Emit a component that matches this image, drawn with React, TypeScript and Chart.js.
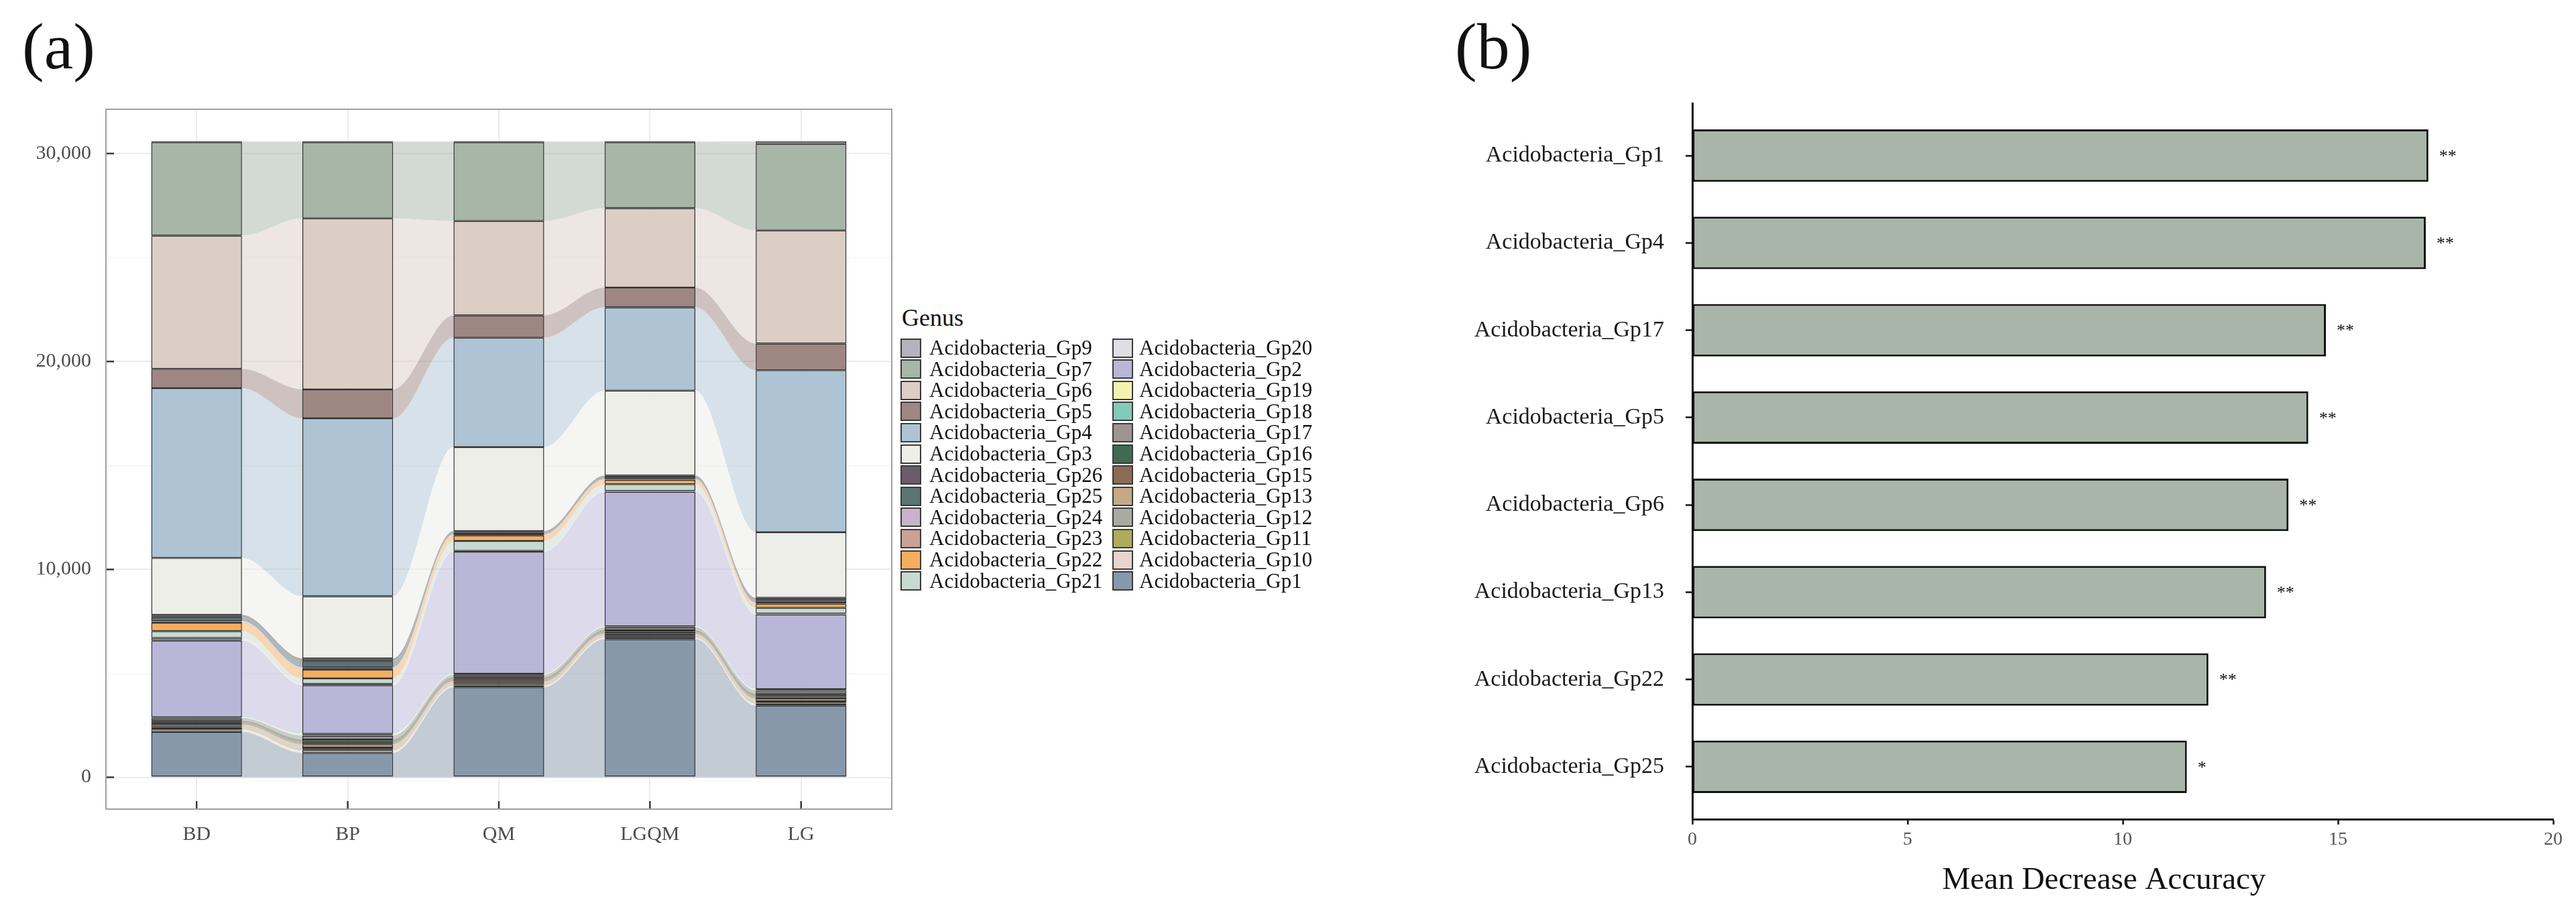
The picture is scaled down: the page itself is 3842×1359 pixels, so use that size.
import React, { useEffect, useRef } from 'react';
import { Chart, registerables } from 'chart.js';

Chart.register(...registerables);

const FONT = '"Liberation Serif", "Times New Roman", serif';

// ---------- Panel (a) data ----------
const sites = ['BD', 'BP', 'QM', 'LGQM', 'LG'];
const yTickValuesA = [0, 10000, 20000, 30000];
const yGridValuesA = [0, 5000, 10000, 15000, 20000, 25000, 30000];

// legend order (top of stack first)
const genera = [
  'Acidobacteria_Gp9', 'Acidobacteria_Gp7', 'Acidobacteria_Gp6', 'Acidobacteria_Gp5',
  'Acidobacteria_Gp4', 'Acidobacteria_Gp3', 'Acidobacteria_Gp26', 'Acidobacteria_Gp25',
  'Acidobacteria_Gp24', 'Acidobacteria_Gp23', 'Acidobacteria_Gp22', 'Acidobacteria_Gp21',
  'Acidobacteria_Gp20', 'Acidobacteria_Gp2', 'Acidobacteria_Gp19', 'Acidobacteria_Gp18',
  'Acidobacteria_Gp17', 'Acidobacteria_Gp16', 'Acidobacteria_Gp15', 'Acidobacteria_Gp13',
  'Acidobacteria_Gp12', 'Acidobacteria_Gp11', 'Acidobacteria_Gp10', 'Acidobacteria_Gp1',
];
const generaColors = [
  '#b4b3bd', '#a7b6a7', '#dccdc5', '#9e8683',
  '#aec4d4', '#eceee7', '#6a5c6a', '#5b7474',
  '#c7b3cb', '#caa196', '#f6ae5e', '#c7d9d1',
  '#dfdee3', '#bab6d7', '#f5f2b0', '#82cbba',
  '#9e9493', '#3f6b51', '#8c6b55', '#c5a987',
  '#a9aaa1', '#aeab5c', '#e6d4cd', '#8898ab',
];

// abundance per site: [BD, BP, QM, LGQM, LG]
const gp9 = [40, 40, 40, 40, 120];
const gp7 = [4486, 3660, 3783, 3166, 4159];
const gp6 = [6412, 8224, 4538, 3823, 5438];
const gp5 = [924, 1393, 1072, 949, 1282];
const gp4 = [8165, 8555, 5265, 4008, 7797];
const gp3 = [2743, 2988, 4037, 4084, 3149];
const gp26 = [110, 130, 75, 90, 115];
const gp25 = [180, 300, 80, 80, 120];
const gp24 = [40, 70, 30, 20, 30];
const gp23 = [50, 40, 30, 20, 20];
const gp22 = [400, 420, 260, 200, 200];
const gp21 = [330, 270, 480, 330, 280];
const gp20 = [120, 60, 40, 30, 30];
const gp2 = [3690, 2340, 5870, 6480, 3600];
const gp19 = [30, 60, 30, 30, 40];
const gp18 = [20, 40, 20, 20, 30];
const gp17 = [120, 170, 120, 130, 150];
const gp16 = [80, 120, 80, 80, 110];
const gp15 = [100, 110, 120, 100, 120];
const gp13 = [120, 150, 100, 90, 130];
const gp12 = [80, 90, 60, 60, 80];
const gp11 = [40, 50, 40, 30, 40];
const gp10 = [120, 130, 80, 80, 100];
const gp1 = [2180, 1170, 4330, 6640, 3440];

const generaValues = [
  gp9, gp7, gp6, gp5, gp4, gp3, gp26, gp25, gp24, gp23, gp22, gp21,
  gp20, gp2, gp19, gp18, gp17, gp16, gp15, gp13, gp12, gp11, gp10, gp1,
];

// ---------- Panel (b) data ----------
const featuresB = [
  'Acidobacteria_Gp1', 'Acidobacteria_Gp4', 'Acidobacteria_Gp17', 'Acidobacteria_Gp5',
  'Acidobacteria_Gp6', 'Acidobacteria_Gp13', 'Acidobacteria_Gp22', 'Acidobacteria_Gp25',
];
const meanDecreaseAccuracy = [17.1, 17.04, 14.72, 14.31, 13.85, 13.33, 11.99, 11.49];
const significance = ['**', '**', '**', '**', '**', '**', '**', '*'];
const xTickValuesB = [0, 5, 10, 15, 20];
const xTitleB = 'Mean Decrease Accuracy';

const BAR_FRACTION = 0.6;
const HALF = BAR_FRACTION / 2;

function hexToRgba(hex: string, a: number) {
  const n = parseInt(hex.slice(1), 16);
  return `rgba(${(n >> 16) & 255},${(n >> 8) & 255},${n & 255},${a})`;
}

function buildConfigA(): any {
  const stackOrder = genera.map((_, i) => i).reverse(); // bottom -> top
  const flows = stackOrder.map((gi, k) => ({
    type: 'line',
    label: genera[gi] + ' flow',
    data: generaValues[gi].flatMap((v, i) => [
      { x: i - HALF, y: v },
      { x: i + HALF, y: v },
    ]),
    borderColor: 'rgba(0,0,0,0)',
    borderWidth: 1,
    backgroundColor: hexToRgba(generaColors[gi], 0.5),
    fill: k === 0 ? 'origin' : '-1',
    pointRadius: 0,
    pointHoverRadius: 0,
    cubicInterpolationMode: 'monotone',
    stack: 'flows',
    order: 2,
  }));
  const bars = stackOrder.map((gi) => ({
    type: 'bar',
    label: genera[gi],
    data: generaValues[gi].map((v, i) => ({ x: i, y: v })),
    backgroundColor: generaColors[gi],
    borderColor: '#2e2e2e',
    borderWidth: 1.5,
    borderSkipped: false,
    barPercentage: BAR_FRACTION,
    categoryPercentage: 1,
    stack: 'strata',
    order: 0,
  }));

  const frame = {
    id: 'frameA',
    afterDraw(chart: any) {
      const { ctx, chartArea: ca, scales } = chart;
      ctx.save();
      ctx.strokeStyle = '#3a3a3a';
      ctx.lineWidth = 2.5;
      ctx.beginPath();
      yTickValuesA.forEach((v) => {
        const y = scales.y.getPixelForValue(v);
        ctx.moveTo(ca.left, y);
        ctx.lineTo(ca.left + 12, y);
      });
      sites.forEach((_, i) => {
        const x = scales.x.getPixelForValue(i);
        ctx.moveTo(x, ca.bottom);
        ctx.lineTo(x, ca.bottom - 12);
      });
      ctx.stroke();
      ctx.strokeStyle = '#a0a0a0';
      ctx.lineWidth = 2;
      ctx.strokeRect(ca.left, ca.top, ca.right - ca.left, ca.bottom - ca.top);
      ctx.restore();
    },
  };

  return {
    type: 'bar',
    data: { datasets: [...flows, ...bars] },
    plugins: [frame],
    options: {
      animation: false,
      responsive: true,
      maintainAspectRatio: false,
      layout: { padding: { top: 163, right: 15, left: 0, bottom: 0 } },
      plugins: { legend: { display: false }, tooltip: { enabled: false } },
      scales: {
        x: {
          type: 'linear',
          min: -0.6,
          max: sites.length - 1 + 0.6,
          offset: false,
          stacked: true,
          afterBuildTicks: (s: any) => {
            s.ticks = sites.map((_, i) => ({ value: i }));
          },
          afterFit: (s: any) => {
            s.height = 93;
          },
          ticks: {
            autoSkip: false,
            maxRotation: 0,
            padding: 20,
            color: '#4d4d4d',
            font: { family: FONT, size: 30 },
            callback: (v: number) => sites[v] ?? '',
          },
          grid: { offset: false, color: '#ececec', lineWidth: 2, drawTicks: false },
          border: { display: false },
        },
        y: {
          type: 'linear',
          stacked: true,
          min: -1530,
          max: 32130,
          afterBuildTicks: (s: any) => {
            s.ticks = yGridValuesA.map((value) => ({ value }));
          },
          afterFit: (s: any) => {
            s.width = 158;
          },
          ticks: {
            autoSkip: false,
            padding: 22,
            color: '#4d4d4d',
            font: { family: FONT, size: 30 },
            callback: (v: number) => (yTickValuesA.includes(v) ? v.toLocaleString('en-US') : ''),
          },
          grid: {
            color: (c: any) => (c.tick && yTickValuesA.includes(c.tick.value) ? '#ebebeb' : '#f4f4f4'),
            lineWidth: (c: any) => (c.tick && yTickValuesA.includes(c.tick.value) ? 2 : 1.5),
            drawTicks: false,
          },
          border: { display: false },
        },
      },
    },
  };
}

function buildConfigB(): any {
  const annotate = {
    id: 'starsAndTitle',
    afterDatasetsDraw(chart: any) {
      const { ctx } = chart;
      const meta = chart.getDatasetMeta(0);
      ctx.save();
      ctx.fillStyle = '#111';
      ctx.font = `26px ${FONT}`;
      ctx.textAlign = 'left';
      ctx.textBaseline = 'middle';
      meta.data.forEach((el: any, i: number) => {
        ctx.fillText(significance[i], el.x + 16, el.y + 2);
      });
      ctx.restore();
    },
    afterDraw(chart: any) {
      const { ctx, scales } = chart;
      const xs = scales.x;
      ctx.save();
      ctx.fillStyle = '#111';
      ctx.font = `47px ${FONT}`;
      ctx.textAlign = 'center';
      ctx.textBaseline = 'alphabetic';
      ctx.fillText(xTitleB, (xs.left + xs.right) / 2 - 28, xs.bottom - 33);
      ctx.restore();
    },
  };
  return {
    type: 'bar',
    data: {
      datasets: [
        {
          label: xTitleB,
          data: meanDecreaseAccuracy.map((v, i) => ({ x: v, y: i })),
          backgroundColor: '#a8b5a8',
          borderColor: '#111111',
          borderWidth: 3,
          borderSkipped: false,
          barPercentage: BAR_FRACTION,
          categoryPercentage: 1,
        },
      ],
    },
    plugins: [annotate],
    options: {
      indexAxis: 'y',
      animation: false,
      responsive: true,
      maintainAspectRatio: false,
      layout: { padding: { top: 154, right: 34, left: 0, bottom: 0 } },
      plugins: { legend: { display: false }, tooltip: { enabled: false } },
      scales: {
        y: {
          type: 'linear',
          reverse: true,
          min: -0.6,
          max: featuresB.length - 1 + 0.6,
          offset: false,
          afterBuildTicks: (s: any) => {
            s.ticks = featuresB.map((_, i) => ({ value: i }));
          },
          afterFit: (s: any) => {
            s.width = 524;
          },
          ticks: {
            autoSkip: false,
            padding: 32,
            color: '#1a1a1a',
            font: { family: FONT, size: 34 },
            callback: (v: number) => featuresB[v] ?? '',
          },
          grid: {
            offset: false,
            drawOnChartArea: false,
            drawTicks: true,
            tickLength: 10,
            tickColor: '#111',
            tickWidth: 2.5,
          },
          border: { display: true, color: '#111', width: 3 },
        },
        x: {
          type: 'linear',
          min: 0,
          max: 20,
          afterBuildTicks: (s: any) => {
            s.ticks = xTickValuesB.map((value) => ({ value }));
          },
          afterFit: (s: any) => {
            s.height = 137;
          },
          ticks: {
            autoSkip: false,
            maxRotation: 0,
            padding: 6,
            color: '#555',
            font: { family: FONT, size: 28 },
          },
          grid: {
            drawOnChartArea: false,
            drawTicks: true,
            tickLength: 8,
            tickColor: '#111',
            tickWidth: 2.5,
          },
          border: { display: true, color: '#111', width: 3 },
          title: { display: false },
        },
      },
    },
  };
}

export default function App() {
  const refA = useRef<HTMLCanvasElement>(null);
  const refB = useRef<HTMLCanvasElement>(null);

  useEffect(() => {
    const a = new Chart(refA.current as HTMLCanvasElement, buildConfigA());
    const b = new Chart(refB.current as HTMLCanvasElement, buildConfigB());
    return () => {
      a.destroy();
      b.destroy();
    };
  }, []);

  const legendRows = 12;
  const rowH = 31.6;
  const firstRowCenter = 519;
  const colKeyLeft = [1343, 1659];
  const colTextLeft = [1386, 1699];

  return (
    <div
      style={{
        position: 'absolute',
        left: 0,
        top: 0,
        width: 3842,
        height: 1359,
        background: '#ffffff',
        overflow: 'hidden',
        fontFamily: FONT,
      }}
    >
      <div style={{ position: 'absolute', left: 0, top: 0, width: 1345, height: 1300 }}>
        <canvas ref={refA} />
      </div>
      <div style={{ position: 'absolute', left: 2000, top: 0, width: 1842, height: 1359 }}>
        <canvas ref={refB} />
      </div>

      <div style={{ position: 'absolute', left: 33, top: 19, fontSize: 98, lineHeight: '100px', color: '#111' }}>(a)</div>
      <div style={{ position: 'absolute', left: 2170, top: 19, fontSize: 98, lineHeight: '100px', color: '#111' }}>(b)</div>

      <div style={{ position: 'absolute', left: 1345, top: 456, fontSize: 36, lineHeight: '36px', color: '#111' }}>Genus</div>
      {genera.map((g, i) => {
        const col = Math.floor(i / legendRows);
        const row = i % legendRows;
        const cy = firstRowCenter + row * rowH;
        return (
          <React.Fragment key={g}>
            <div
              style={{
                position: 'absolute',
                left: colKeyLeft[col],
                top: cy - 14.5,
                width: 31,
                height: 29,
                boxSizing: 'border-box',
                border: '2px solid #3a3a3a',
                background: generaColors[i],
              }}
            />
            <div
              style={{
                position: 'absolute',
                left: colTextLeft[col],
                top: cy - 16,
                fontSize: 31,
                lineHeight: '32px',
                color: '#111',
                whiteSpace: 'nowrap',
              }}
            >
              {g}
            </div>
          </React.Fragment>
        );
      })}
    </div>
  );
}
